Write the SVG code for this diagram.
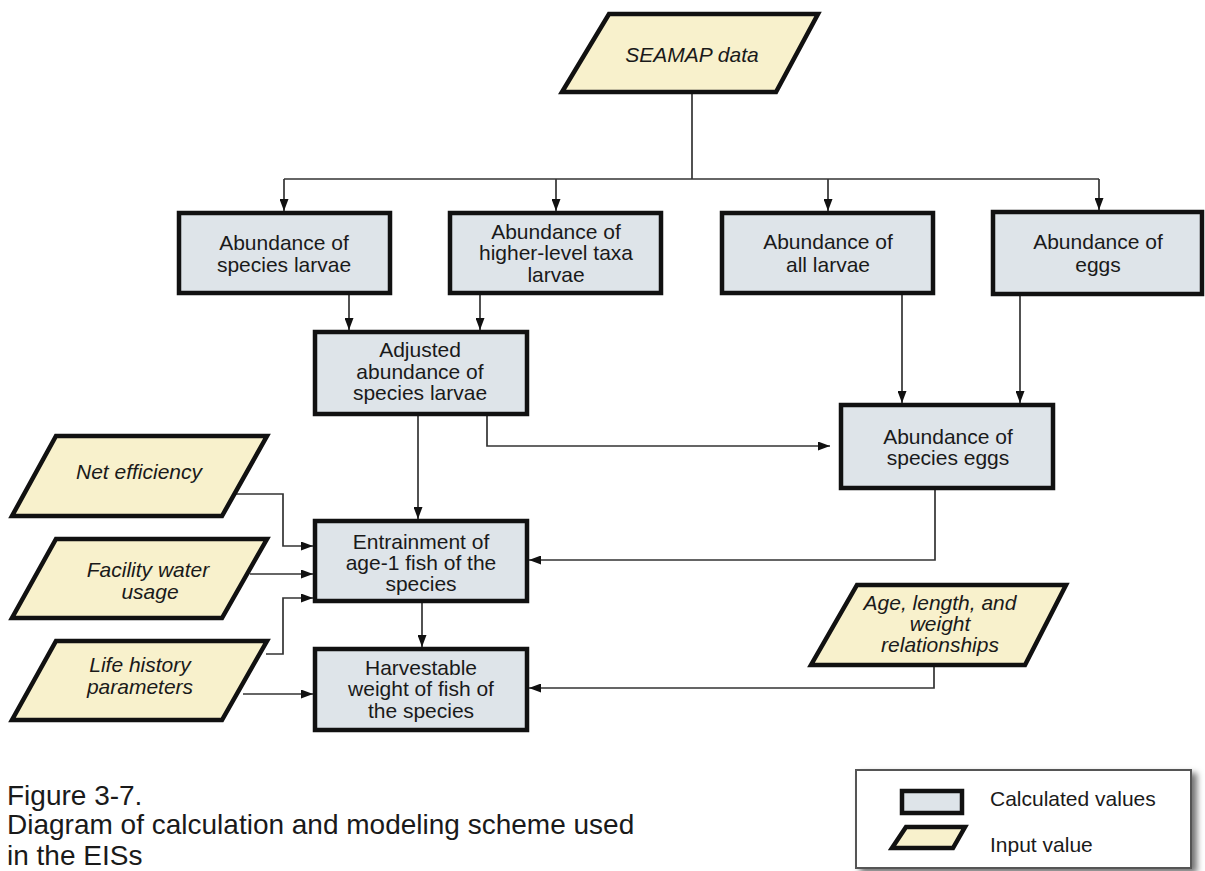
<svg xmlns="http://www.w3.org/2000/svg" width="1205" height="871" viewBox="0 0 1205 871">
<style>
.calc{fill:#dee4e9;stroke:#111;stroke-width:4.5}
.inp{fill:#f8f1cc;stroke:#111;stroke-width:4.5;stroke-linejoin:miter}
.t{font-family:"Liberation Sans",Arial,sans-serif;font-size:21px;fill:#1a1a1a;text-anchor:middle}
.ti{font-family:"Liberation Sans",Arial,sans-serif;font-size:21px;font-style:italic;fill:#1a1a1a;text-anchor:middle}
.c{fill:none;stroke:#333;stroke-width:1.7}
.ca{fill:none;stroke:#333;stroke-width:1.7;marker-end:url(#arr)}
.cap{font-family:"Liberation Sans",Arial,sans-serif;font-size:28px;fill:#1a1a1a}
.leg{font-family:"Liberation Sans",Arial,sans-serif;font-size:21px;fill:#1a1a1a}
</style>
<defs>
<marker id="arr" viewBox="0 0 12 9" refX="12" refY="4.5" markerWidth="12" markerHeight="9" markerUnits="userSpaceOnUse" orient="auto">
<path d="M0,0 L12,4.5 L0,9 z" fill="#111"/>
</marker>
<filter id="shadow" x="-5%" y="-10%" width="115%" height="130%">
<feDropShadow dx="5" dy="4" stdDeviation="3" flood-color="#000" flood-opacity="0.55"/>
</filter>
</defs>
<rect width="1205" height="871" fill="#ffffff"/>

<g id="connectors">
<path class="c" d="M692,94 V179"/>
<path class="c" d="M284,179 H1099"/>
<path class="ca" d="M284,179 V211"/>
<path class="ca" d="M556,179 V211"/>
<path class="ca" d="M828,179 V211"/>
<path class="ca" d="M1099,179 V210"/>
<path class="ca" d="M349,295 V330"/>
<path class="ca" d="M480,295 V330"/>
<path class="ca" d="M902,295 V403"/>
<path class="ca" d="M1020,296 V403"/>
<path class="ca" d="M487,416 V446 H830"/>
<path class="ca" d="M418,416 V519"/>
<path class="ca" d="M935,490 V560 H529"/>
<path class="ca" d="M236,494 H283 V546 H313"/>
<path class="ca" d="M250,574 H313"/>
<path class="ca" d="M266,654 H283 V598 H313"/>
<path class="ca" d="M243,694 H313"/>
<path class="ca" d="M422,603 V647"/>
<path class="ca" d="M934,667 V688 H529"/>
</g>

<g id="seamap">
<polygon class="inp" points="609,14 818,14 776,92 562,92"/>
<text class="ti" x="692" y="62">SEAMAP data</text>
</g>

<g id="species-larvae">
<rect class="calc" x="179" y="213" width="211" height="80"/>
<text class="t" x="284" y="250">Abundance of</text>
<text class="t" x="284" y="272">species larvae</text>
</g>

<g id="higher-taxa-larvae">
<rect class="calc" x="450" y="213" width="211" height="80"/>
<text class="t" x="556" y="239">Abundance of</text>
<text class="t" x="556" y="260">higher-level taxa</text>
<text class="t" x="556" y="282">larvae</text>
</g>

<g id="all-larvae">
<rect class="calc" x="722" y="213" width="211" height="80"/>
<text class="t" x="828" y="249">Abundance of</text>
<text class="t" x="828" y="272">all larvae</text>
</g>

<g id="eggs">
<rect class="calc" x="993" y="212" width="209" height="82"/>
<text class="t" x="1098" y="249">Abundance of</text>
<text class="t" x="1098" y="272">eggs</text>
</g>

<g id="adjusted">
<rect class="calc" x="315" y="332" width="212" height="82"/>
<text class="t" x="420" y="357">Adjusted</text>
<text class="t" x="420" y="379">abundance of</text>
<text class="t" x="420" y="400">species larvae</text>
</g>

<g id="species-eggs">
<rect class="calc" x="841" y="405" width="212" height="83"/>
<text class="t" x="948" y="444">Abundance of</text>
<text class="t" x="948" y="465">species eggs</text>
</g>

<g id="net-efficiency">
<polygon class="inp" points="56,436 267,436 222,516 12,516"/>
<text class="ti" x="139" y="479">Net efficiency</text>
</g>

<g id="facility-water">
<polygon class="inp" points="56,539 267,539 222,618 12,618"/>
<text class="ti" x="148" y="577">Facility water</text>
<text class="ti" x="150" y="599">usage</text>
</g>

<g id="life-history">
<polygon class="inp" points="56,641 267,641 222,720 12,720"/>
<text class="ti" x="140" y="672">Life history</text>
<text class="ti" x="140" y="694">parameters</text>
</g>

<g id="entrainment">
<rect class="calc" x="315" y="521" width="212" height="80"/>
<text class="t" x="421" y="549">Entrainment of</text>
<text class="t" x="421" y="570">age-1 fish of the</text>
<text class="t" x="421" y="591">species</text>
</g>

<g id="harvestable">
<rect class="calc" x="315" y="649" width="212" height="81"/>
<text class="t" x="421" y="675">Harvestable</text>
<text class="t" x="421" y="696">weight of fish of</text>
<text class="t" x="421" y="718">the species</text>
</g>

<g id="age-length-weight">
<polygon class="inp" points="857,585 1066,585 1025,665 811,665"/>
<text class="ti" x="940" y="610">Age, length, and</text>
<text class="ti" x="940" y="631">weight</text>
<text class="ti" x="940" y="652">relationships</text>
</g>

<g id="legend">
<rect x="856" y="770" width="335" height="98" fill="#ffffff" stroke="#555" stroke-width="2" filter="url(#shadow)"/>
<rect class="calc" x="902" y="791" width="60" height="22"/>
<polygon class="inp" points="906,827 965,827 953,848 892,848"/>
<text class="leg" x="990" y="806">Calculated values</text>
<text class="leg" x="990" y="852">Input value</text>
</g>

<g id="caption">
<text class="cap" x="7" y="805">Figure 3-7.</text>
<text class="cap" x="7" y="834">Diagram of calculation and modeling scheme used</text>
<text class="cap" x="7" y="865">in the EISs</text>
</g>
</svg>
